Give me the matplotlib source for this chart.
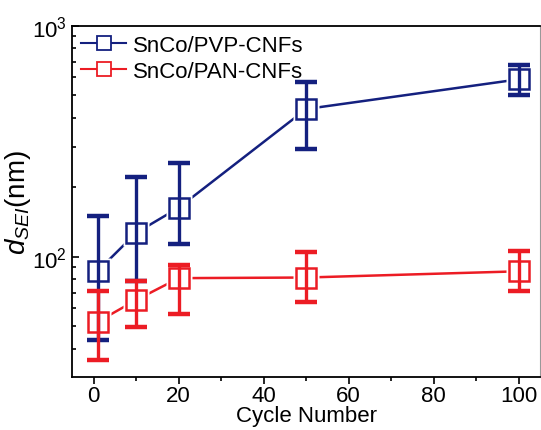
import numpy as np
import matplotlib.pyplot as plt

plt.rcParams['font.family'] = ['Liberation Sans', 'DejaVu Sans']
plt.rcParams['mathtext.fontset'] = 'custom'
plt.rcParams['mathtext.rm'] = 'Liberation Sans'
plt.rcParams['mathtext.it'] = 'Liberation Sans:italic'

# cycle numbers
cycles = [1, 10, 20, 50, 100]

# SnCo/PVP-CNFs thickness (nm) and error bar ends
pvp = [87, 127, 163, 436, 586]
pvp_hi = [150, 221, 255, 572, 678]
pvp_lo = [43.6, 78.7, 114, 292, 500]

# SnCo/PAN-CNFs
pan = [52.4, 65, 80.8, 81.3, 86.5]
pan_hi = [71, 78.7, 92, 105, 106]
pan_lo = [35.6, 49.6, 56.6, 64, 71]

blue = '#14207f'
red = '#ec1c24'

fig = plt.figure(figsize=(5.41, 4.31), dpi=100)
ax = fig.add_axes([0.134, 0.124, 0.864, 0.814])

def draw(y, lo, hi, col, lab):
    y = np.array(y)
    err = [y - np.array(lo), np.array(hi) - y]
    # line, with white boxes under the markers so it stops short of them
    ax.plot(cycles, y, '-', color=col, lw=1.8, zorder=1)
    ax.plot(cycles, y, ls='none', marker='s', ms=19, mfc='white',
            mec='none', zorder=2)
    ax.errorbar(cycles, y, yerr=err, fmt='none', ecolor=col, elinewidth=2.4,
                capsize=8, capthick=3.2, zorder=3)
    ax.plot(cycles, y, ls='none', marker='s', ms=15, mfc='none', mec=col,
            mew=1.8, zorder=4)
    # legend proxy
    ax.plot([], [], '-', color=col, lw=1.5, marker='s', ms=10, mfc='white',
            mec=col, mew=1.3, label=lab)

draw(pvp, pvp_lo, pvp_hi, blue, 'SnCo/PVP-CNFs')
draw(pan, pan_lo, pan_hi, red, 'SnCo/PAN-CNFs')

ax.set_yscale('log')
ax.set_ylim(30.3, 1000)
ax.set_xlim(-5, 105)
ax.set_xticks([0, 20, 40, 60, 80, 100])
ax.set_xticks([10, 30, 50, 70, 90], minor=True)

ax.tick_params(axis='x', which='both', direction='out', labelsize=16,
               top=False, pad=1)
ax.tick_params(axis='x', which='major', length=5, width=1.2)
ax.tick_params(axis='x', which='minor', length=3, width=1.2)
ax.tick_params(axis='y', which='both', direction='in', labelsize=16,
               right=False, pad=4)
ax.tick_params(axis='y', which='major', length=5, width=1.2)
ax.tick_params(axis='y', which='minor', length=3, width=1.2)

for s in ['left', 'bottom', 'top']:
    ax.spines[s].set_linewidth(1.3)
ax.spines['right'].set_color('#999999')

ax.set_xlabel('Cycle Number', fontsize=16, labelpad=-1)
ax.set_ylabel(r'$d_{SEI}$(nm)', fontsize=20, labelpad=-1)

ax.legend(loc='upper left', frameon=False, fontsize=16, handlelength=2.0,
          handletextpad=0.3, borderaxespad=0.1, labelspacing=0.25,
          borderpad=0.3)

plt.savefig('out.png', dpi=100)
